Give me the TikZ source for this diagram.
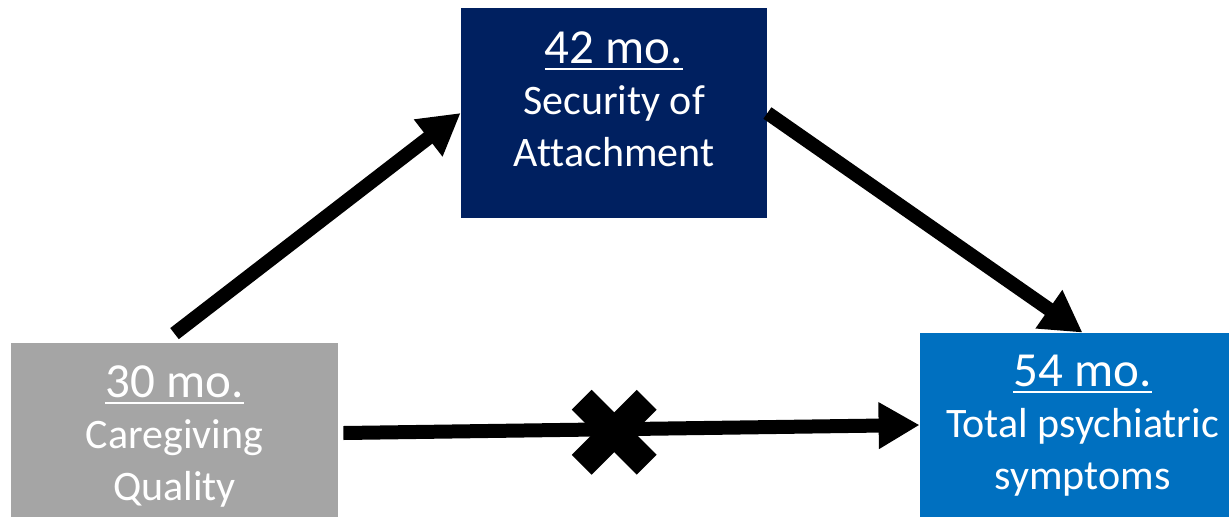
\documentclass[tikz,border=0pt]{standalone}
\usepackage{fontspec}
\setmainfont{Carlito}[Ligatures = CommonOff]
\usepackage{tikz}
\usetikzlibrary{arrows.meta}
\definecolor{navy}{HTML}{002060}
\definecolor{midblue}{HTML}{0070C0}
\definecolor{boxgray}{HTML}{A5A5A5}
% underlined age heading, a bit bigger than the box text
\newcommand{\agehead}[1]{{\fontsize{24.5}{25.75}\selectfont\setbox0\hbox{#1}\rlap{\rule[-3.6pt]{\wd0}{1.25pt}}\box0}}

\begin{document}
\begin{tikzpicture}[x = .5pt, y = .5pt,
		box/.style = {rectangle, draw = none, inner sep = 0pt},
		txt/.style = {text = white, align = center, anchor = base, font = \fontsize{21}{25.75}\selectfont},
		link/.style = {line width = 7pt, -{Triangle[length = 20.5pt, width = 22pt]}}]
				\clip (0,0) rectangle (1229,516);
				% the three boxes
				\node[box, fill = boxgray, minimum width = 163.5pt, minimum height = 91.5pt] (cq) at (174.5,81.5) {};
				\node[box, fill = navy, minimum width = 153pt, minimum height = 105pt] (sa) at (614,403) {};
				\node[box, fill = midblue, minimum width = 162.5pt, minimum height = 96.5pt] (tps) at (1082.5,86.5) {};
				% base sits on the last line
				\node[txt] (cq-txt) at (174.5,16) {\agehead{30 mo.}\\Caregiving\\Quality};
				\node[txt] (sa-txt) at (614,350) {\agehead{42 mo.}\\Security of\\Attachment};
				\node[txt] (tps-txt) at (1082.5,27) {\agehead{54 mo.}\\Total psychiatric\\symptoms};
				% paths
				\draw[link] ([yshift = 4.5pt]cq.north) -- (sa.west);
				\draw[link] (sa.east) -- (tps.north);
				\draw[link] ([shift = {(2.5pt,.75pt)}]cq.east) -- coordinate[pos = .47] (cut) ([yshift = 2.25pt]tps.west);
				% cross on the direct path
				\foreach \s in {1,-1} {
					\draw[line width = 14pt] ([shift = {(-32.5,-32.5*\s)}, yshift = -1.5pt]cut) -- ([shift = {(32.5,32.5*\s)}, yshift = -1.5pt]cut);
				}
			\end{tikzpicture}
\end{document}
